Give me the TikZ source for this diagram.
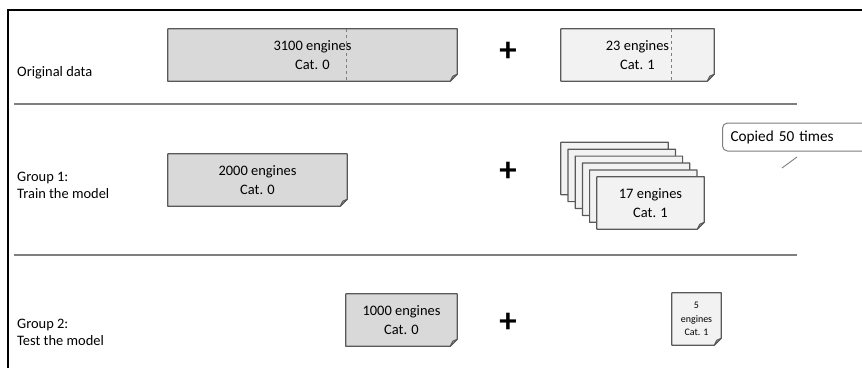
\documentclass[tikz,border=0pt]{standalone}
\usepackage{fontspec}
\setmainfont{Carlito}
\usetikzlibrary{backgrounds}
\definecolor{darkfill}{HTML}{D9D9D9}
\definecolor{lightfill}{HTML}{F2F2F2}
\definecolor{edgegray}{HTML}{595959}
\definecolor{linegray}{HTML}{7F7F7F}
\definecolor{flapgray}{HTML}{A6A6A6}
\newcommand\foldnote[2]{%
  \begin{scope}[on background layer]
    \filldraw[fill=#2, draw=edgegray, line width=1.2bp, line join=round]
      (#1.north west) -- (#1.north east) -- ([yshift=7bp]#1.south east)
      -- ([xshift=-7bp]#1.south east) -- (#1.south west) -- cycle;
    \filldraw[fill=flapgray, draw=edgegray, line width=0.9bp, line join=round]
      ([yshift=7bp]#1.south east) -- ([xshift=-7bp]#1.south east)
      .. controls ([xshift=-5bp,yshift=3bp]#1.south east) .. ([xshift=-4.5bp,yshift=5bp]#1.south east) -- cycle;
  \end{scope}}
\tikzset{
  notebox/.style={draw=none, inner sep=0pt, align=center,
    font=\fontsize{14.5}{18.5}\selectfont},
  rowlabel/.style={anchor=west, align=left, inner sep=0pt,
    font=\fontsize{14.5}{16.5}\selectfont},
  plussign/.style={inner sep=0pt, font=\fontsize{35}{35}\selectfont\bfseries},
  seprule/.style={draw=linegray, line width=1.5bp},
  framerule/.style={draw=black, line width=1.6bp},
  splitline/.style={draw=linegray, dashed, line width=0.8bp},
  calloutbox/.style={draw=linegray, rounded corners=5bp, line width=1bp, fill=white,
    anchor=west, minimum width=190bp, minimum height=28bp, text width=174bp,
    inner xsep=8bp, align=left, font=\fontsize{15.3}{17}\selectfont},
}
\begin{document}
\begin{tikzpicture}[x=1bp,y=-1bp]
\useasboundingbox (0,0) rectangle (862,367);
% frame
\draw[framerule] (8,372) -- (8,10) -- (870,10);
% separators
\draw[seprule] (14,104) -- (797,104);
\draw[seprule] (14,255) -- (797,255);
% row labels
\node[rowlabel] (lab0) at (17,73) {Original data};
\node[rowlabel] (lab1) at (17,185.5) {Group 1:\\Train the model};
\node[rowlabel] (lab2) at (17,332.5) {Group 2:\\Test the model};
% original data
\node[notebox, minimum width=289bp, minimum height=52bp] (b3100) at (312.5,55) {3100 engines\\Cat. 0};
\foldnote{b3100}{darkfill}
\draw[splitline] ([xshift=179bp]b3100.north west) -- ([xshift=179bp]b3100.south west);
\node[plussign] (plus0) at (508,52) {+};
\node[notebox, minimum width=153bp, minimum height=52bp] (b23) at (637.5,55) {23 engines\\Cat. 1};
\foldnote{b23}{lightfill}
\draw[splitline] ([xshift=111bp]b23.north west) -- ([xshift=111bp]b23.south west);
% group 1
\node[notebox, minimum width=179bp, minimum height=52bp] (b2000) at (257.5,180) {2000 engines\\Cat. 0};
\foldnote{b2000}{darkfill}
\node[plussign] (plus1) at (508,172) {+};
\foreach \k in {5,4,3,2,1}{
  \node[notebox, minimum width=107bp, minimum height=52bp] (c\k) at ({650.5-7.2*\k},{203-6.9*\k}) {};
  \foldnote{c\k}{lightfill}
}
\node[notebox, minimum width=107bp, minimum height=52bp] (b17) at (650.5,203) {17 engines\\Cat. 1};
\foldnote{b17}{lightfill}
% callout
\node[calloutbox] (cp) at (722,137) {Copied 50 times};
\coordinate (p1) at (797,157);
\coordinate (p2) at (782,168);
\draw[draw=linegray, line width=0.9bp] (p1) -- (p2);
% group 2
\node[notebox, minimum width=111bp, minimum height=52bp] (b1000) at (401.5,320) {1000 engines\\Cat. 0};
\foldnote{b1000}{darkfill}
\node[plussign] (plus2) at (508,323) {+};
\node[notebox, minimum width=49bp, minimum height=52bp, font=\fontsize{10}{13.5}\selectfont] (b5) at (696.5,319) {5\\engines\\Cat. 1};
\foldnote{b5}{lightfill}
\end{tikzpicture}
\end{document}
